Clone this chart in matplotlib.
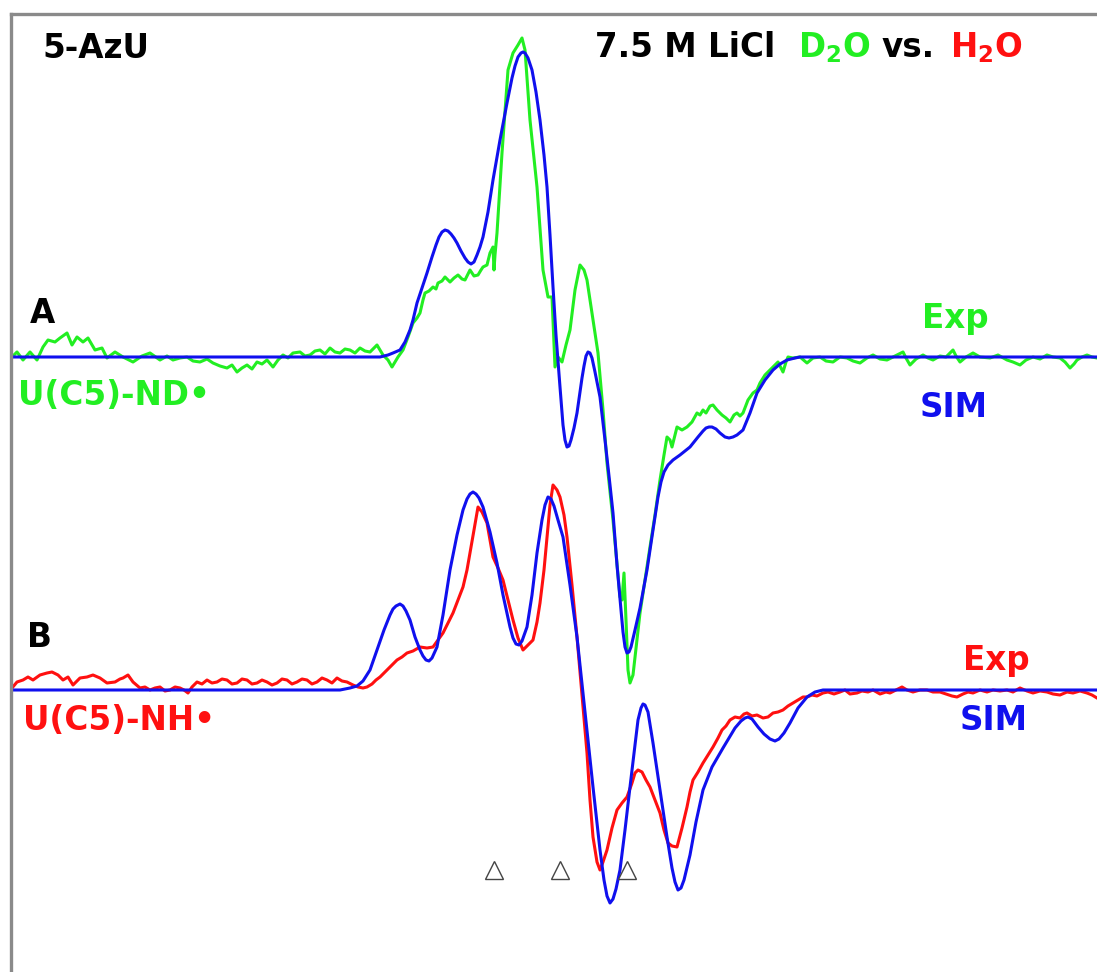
import numpy as np
import matplotlib
matplotlib.use("Agg")
import matplotlib.pyplot as plt

plt.rcParams["font.family"] = ["DejaVu Sans"]
plt.rcParams["mathtext.fontset"] = "dejavusans"

# traced spectra: field (arb.) and signal (arb., plotted on a downward axis)
expA_x = [12, 17, 23, 30, 37, 43, 48, 55, 60, 67, 72, 77, 83, 88, 95, 102, 107, 115, 123, 133,
          142, 150, 160, 167, 173, 180, 187, 193, 200, 207, 213, 220, 227, 232, 237, 242, 247, 252,
          257, 262, 267, 273, 278, 283, 288, 293, 300, 305, 310, 315, 320, 325, 330, 335, 340, 345,
          350, 355, 360, 365, 370, 374, 377, 380, 383, 388, 392, 395, 398, 403, 408, 413, 417, 420,
          423, 425, 429, 433, 436, 438, 442, 445, 448, 450, 454, 458, 462, 465, 468, 470, 474, 478,
          481, 483, 487, 490, 493, 494, 495, 497, 502, 508, 513, 518, 522, 525, 530, 537, 543, 548,
          552, 555, 558, 562, 566, 570, 575, 580, 584, 587, 593, 598, 603, 607, 613, 620, 622, 624,
          626, 628, 630, 633, 637, 640, 645, 650, 655, 660, 664, 667, 670, 672, 675, 677, 682, 687,
          692, 697, 700, 703, 706, 710, 713, 717, 722, 726, 730, 734, 737, 740, 743, 748, 753, 757,
          760, 765, 770, 775, 778, 781, 783, 786, 788, 793, 800, 807, 813, 820, 826, 833, 840, 847,
          853, 860, 867, 873, 880, 887, 895, 903, 906, 910, 916, 923, 928, 933, 940, 946, 953, 956,
          960, 966, 973, 980, 990, 998, 1007, 1013, 1020, 1026, 1033, 1040, 1047, 1053, 1060, 1065,
          1070, 1074, 1077, 1082, 1087, 1092, 1097]
expA_y = [357, 352, 360, 352, 360, 347, 340, 342, 338, 333, 345, 337, 342, 338, 350, 348, 358, 352, 357, 362,
          356, 353, 360, 356, 360, 358, 357, 361, 362, 359, 363, 366, 368, 365, 372, 368, 365, 369,
          362, 364, 360, 367, 360, 355, 358, 353, 352, 356, 355, 351, 350, 354, 348, 352, 353, 349,
          350, 353, 348, 351, 352, 348, 345, 350, 355, 360, 367, 362, 357, 350, 337, 323, 318, 313,
          300, 293, 291, 287, 289, 283, 281, 277, 280, 282, 278, 275, 279, 280, 274, 270, 276, 275,
          270, 267, 265, 253, 247, 270, 255, 233, 153, 70, 53, 45, 38, 50, 120, 187, 270, 297,
          297, 367, 357, 362, 345, 330, 290, 265, 270, 280, 320, 353, 410, 463, 520, 597, 600, 573,
          620, 670, 683, 675, 640, 613, 580, 547, 515, 480, 455, 437, 440, 447, 435, 427, 430, 427,
          422, 413, 415, 410, 413, 406, 405, 410, 415, 418, 422, 415, 413, 416, 413, 400, 393, 390,
          383, 375, 370, 365, 362, 368, 372, 362, 357, 358, 357, 363, 358, 357, 361, 362, 357, 358,
          361, 363, 358, 355, 359, 360, 356, 352, 358, 365, 359, 355, 358, 360, 356, 357, 350, 356,
          362, 357, 353, 357, 358, 355, 360, 362, 365, 360, 357, 359, 355, 357, 358, 362,
          368, 364, 360, 357, 355, 357, 358]

simA_x = [12, 380, 388, 393, 400, 405, 410, 413, 417, 422, 427, 432, 436, 439, 442, 445, 448, 451,
          454, 457, 461, 465, 468, 471, 474, 477, 480, 483, 488, 493, 500, 507, 512, 515, 518, 521,
          523, 525, 528, 532, 536, 540, 544, 547, 550, 553, 556, 560, 563, 565, 567, 569, 571, 574,
          577, 580, 582, 584, 586, 588, 590, 592, 595, 600, 605, 610, 613, 617, 621, 623, 625, 627,
          629, 631, 635, 640, 647, 653, 658, 661, 664, 668, 673, 680, 690, 698, 703, 706, 709, 712,
          716, 720, 725, 729, 733, 737, 743, 750, 757, 765, 773, 780, 787, 795, 800, 1097]
simA_y = [357, 357, 355, 353, 350, 342, 330, 320, 303, 288, 273, 257, 245, 237, 232, 230, 231, 234,
          238, 243, 251, 258, 262, 264, 262, 255, 247, 237, 212, 180, 140, 103, 78, 66, 57, 53,
          52, 53, 58, 70, 92, 120, 155, 187, 235, 287, 335, 387, 425, 440, 447, 446, 440, 428,
          413, 392, 378, 366, 356, 352, 353, 358, 372, 397, 440, 485, 513, 565, 610, 632, 647, 653,
          652, 647, 630, 608, 570, 530, 497, 482, 472, 465, 460, 455, 447, 437, 431, 428, 427, 427,
          429, 433, 437, 438, 437, 435, 430, 413, 393, 380, 370, 364, 360, 358, 357, 357]

expB_x = [12, 17, 23, 28, 33, 40, 47, 52, 58, 63, 68, 73, 80, 87, 93, 100, 107, 115, 120, 123,
          128, 133, 140, 145, 150, 155, 160, 165, 170, 175, 180, 184, 188, 192, 197, 202, 207, 212,
          217, 222, 227, 232, 237, 242, 247, 252, 257, 262, 267, 272, 277, 282, 287, 292, 297, 302,
          307, 312, 317, 322, 327, 332, 337, 342, 347, 353, 358, 363, 367, 372, 376, 380, 385, 390,
          393, 397, 402, 407, 413, 420, 427, 433, 438, 443, 448, 453, 458, 463, 467, 470, 474, 478,
          482, 487, 490, 493, 498, 503, 508, 513, 518, 523, 528, 533, 537, 540, 544, 547, 550, 553,
          557, 560, 564, 567, 572, 577, 582, 587, 590, 593, 597, 600, 603, 607, 612, 617, 622, 627,
          632, 635, 638, 642, 646, 650, 655, 660, 664, 668, 672, 677, 682, 687, 690, 693, 698, 703,
          708, 713, 718, 722, 726, 730, 735, 740, 744, 747, 752, 757, 763, 768, 773, 778, 783, 788,
          793, 798, 803, 807, 812, 817, 823, 828, 834, 840, 845, 850, 857, 862, 868, 873, 880, 886,
          890, 896, 902, 907, 913, 920, 927, 933, 940, 946, 952, 957, 963, 968, 973, 980, 987, 993,
          1000, 1007, 1013, 1020, 1027, 1033, 1040, 1047, 1053, 1060, 1067, 1073, 1080, 1087, 1092, 1097]
expB_y = [688, 682, 680, 677, 680, 675, 673, 672, 675, 680, 677, 685, 678, 677, 675, 678, 683, 682, 679, 678,
          675, 682, 688, 687, 690, 688, 687, 691, 690, 687, 688, 690, 693, 687, 682, 684, 680, 683,
          682, 679, 680, 684, 683, 679, 680, 684, 683, 680, 682, 685, 683, 679, 680, 684, 682, 679,
          680, 684, 682, 678, 680, 683, 678, 681, 682, 685, 687, 688, 687, 684, 680, 677, 672, 667,
          664, 660, 657, 653, 651, 647, 648, 647, 640, 633, 623, 613, 600, 587, 570, 553, 530, 507,
          512, 523, 540, 557, 568, 580, 600, 620, 638, 650, 645, 640, 622, 603, 570, 537, 505, 485,
          490, 497, 515, 537, 585, 637, 695, 753, 800, 837, 862, 870, 862, 850, 828, 810, 803, 797,
          783, 773, 770, 772, 780, 787, 800, 813, 830, 843, 846, 847, 828, 807, 792, 780, 772, 763,
          755, 747, 738, 730, 726, 720, 717, 718, 714, 713, 716, 715, 718, 717, 713, 712, 710, 706,
          703, 700, 697, 697, 695, 696, 693, 692, 694, 692, 690, 694, 693, 691, 692, 690, 694, 692,
          693, 690, 687, 690, 692, 690, 690, 692, 692, 694, 696, 697, 694, 692, 693, 690, 692, 690,
          691, 690, 692, 688, 691, 693, 691, 692, 694, 695, 692, 693, 691, 693, 695, 698]

simB_x = [12, 340, 350, 357, 363, 370, 377, 384, 390, 393, 396, 400, 403, 406, 410, 415, 420, 423,
          426, 429, 432, 437, 443, 450, 457, 463, 467, 470, 473, 476, 479, 483, 490, 497, 503, 510,
          513, 516, 519, 522, 527, 532, 537, 542, 545, 548, 551, 554, 558, 563, 570, 577, 585, 593,
          600, 604, 607, 610, 613, 616, 620, 625, 630, 635, 638, 641, 643, 645, 648, 653, 660, 667,
          672, 675, 678, 681, 684, 690, 696, 703, 712, 723, 735, 741, 745, 748, 752, 758, 764, 770,
          775, 779, 784, 790, 798, 807, 815, 823, 1097]
simB_y = [690, 690, 688, 686, 681, 670, 650, 630, 615, 609, 606, 604, 606, 611, 620, 637, 650, 656,
          660, 661, 658, 647, 615, 570, 535, 510, 499, 494, 492, 494, 498, 507, 532, 563, 595, 627,
          638, 644, 645, 641, 627, 595, 553, 520, 505, 497, 499, 506, 520, 537, 585, 637, 712, 787,
          850, 880, 896, 903, 899, 889, 870, 830, 787, 745, 720, 708, 704, 705, 712, 743, 790, 837,
          868, 882, 890, 888, 880, 855, 822, 790, 767, 748, 728, 721, 718, 717, 719, 727, 734, 739,
          741, 739, 733, 723, 708, 697, 692, 690, 690]

marker_x = [494, 560, 627]
marker_y = [870, 870, 870]

GREEN = "#22ee22"
BLUE = "#1010ee"
RED = "#ff1010"

fig = plt.figure(figsize=(10.97, 9.72), dpi=100)
x0 = 11.3 / 1097
top = 1 - 13.7 / 972
ax = fig.add_axes([x0, 0, 1 - x0, top])
ax.set_xlim(11.3, 1097)
ax.set_ylim(972, 13.7)

lw = 2.2
ax.plot(expA_x, expA_y, color=GREEN, lw=lw, solid_joinstyle="round")
ax.plot(simA_x, simA_y, color=BLUE, lw=lw, solid_joinstyle="round")
ax.plot(expB_x, expB_y, color=RED, lw=lw, solid_joinstyle="round")
ax.plot(simB_x, simB_y, color=BLUE, lw=lw, solid_joinstyle="round")
ax.plot(marker_x, marker_y, ls="none", marker="^", ms=12.5, mfc="white",
        mec="#444444", mew=1.0)

for side in ["right", "bottom"]:
    ax.spines[side].set_visible(False)
for side in ["left", "top"]:
    ax.spines[side].set_color("#8a8a8a")
    ax.spines[side].set_linewidth(2.4)
ax.set_xticks([])
ax.set_yticks([])

fs = 23.5
kw = dict(fontsize=fs, fontweight="bold", va="baseline", ha="left")
ax.text(42, 58, "5-AzU", color="black", **kw)
ax.text(595, 57, "7.5 M LiCl", color="black", **kw)
ax.text(798, 57, r"D$_\mathbf{2}$O", color=GREEN, **kw)
ax.text(882, 57, "vs.", color="black", **kw)
ax.text(950, 57, r"H$_\mathbf{2}$O", color=RED, **kw)

ax.text(30, 323, "A", color="black", **kw)
ax.text(18, 405, "U(C5)-ND\u2022", color=GREEN, **kw)
ax.text(922, 328, "Exp", color=GREEN, **kw)
ax.text(920, 417, "SIM", color=BLUE, **kw)

ax.text(27, 647, "B", color="black", **kw)
ax.text(23, 730, "U(C5)-NH\u2022", color=RED, **kw)
ax.text(963, 670, "Exp", color=RED, **kw)
ax.text(960, 730, "SIM", color=BLUE, **kw)

fig.savefig("out.png", dpi=100)
